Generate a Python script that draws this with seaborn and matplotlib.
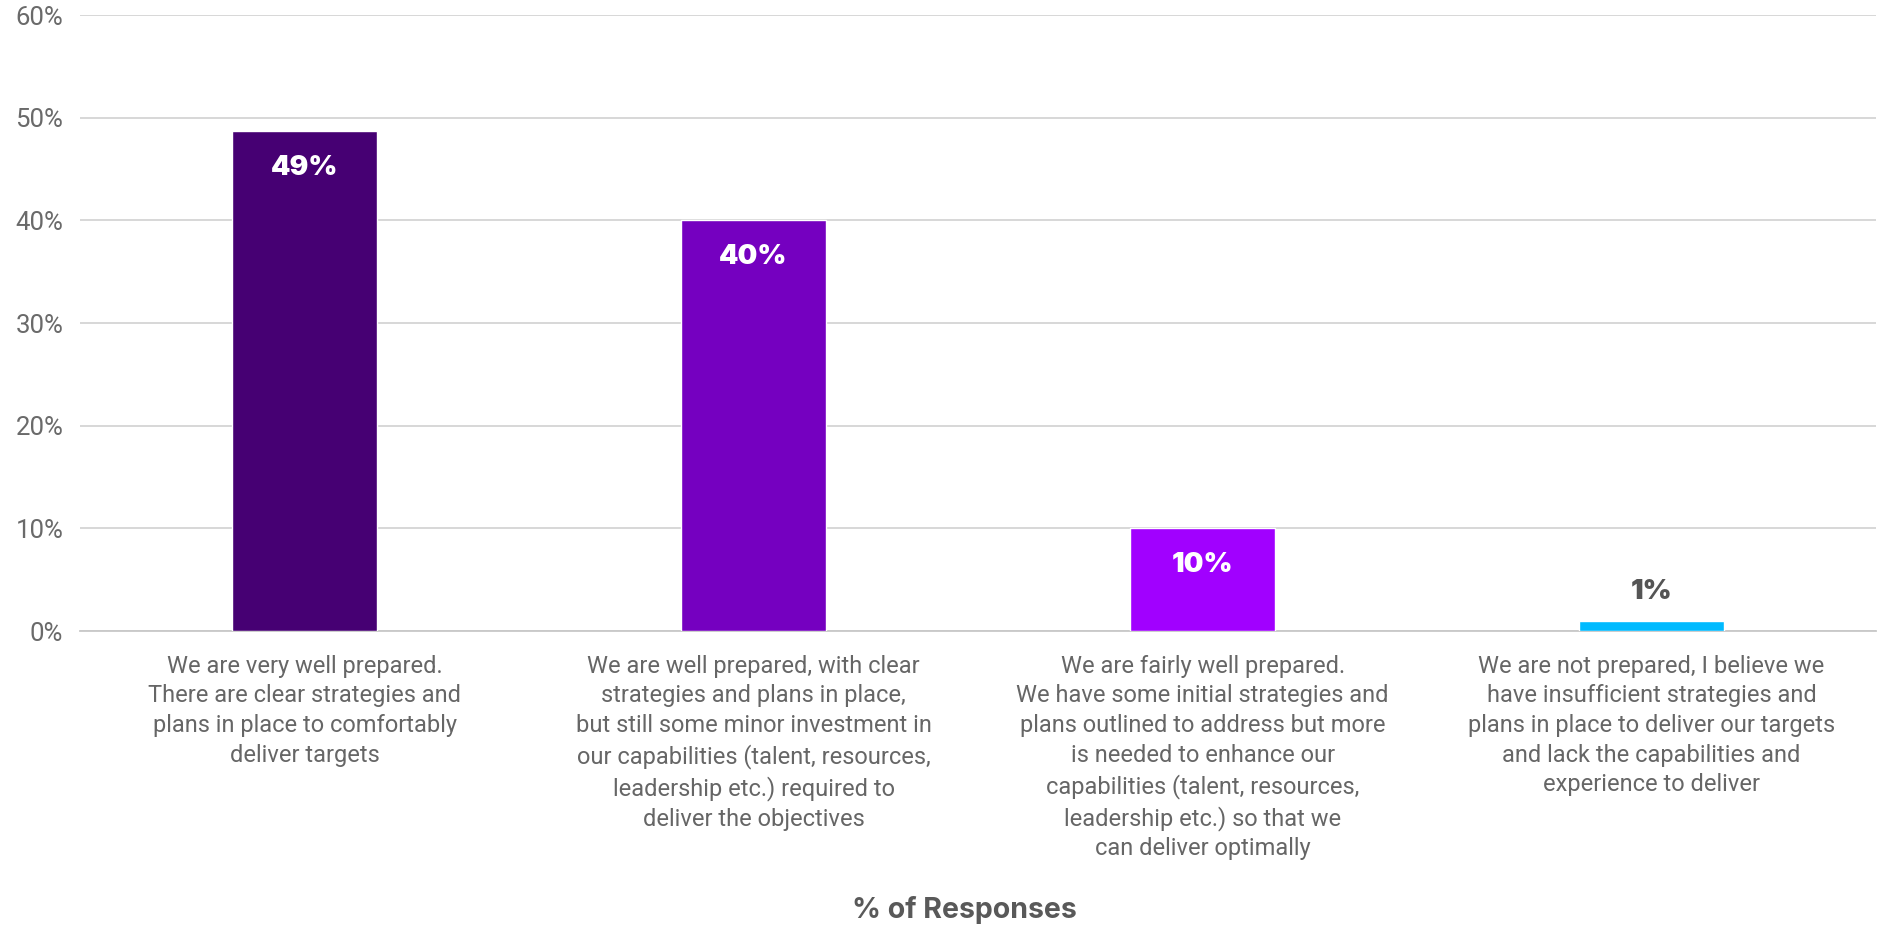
import matplotlib
matplotlib.use("Agg")
import matplotlib.pyplot as plt
import seaborn as sns
import pandas as pd

categories = [
    "We are very well prepared.\nThere are clear strategies and\nplans in place to comfortably\ndeliver targets",
    "We are well prepared, with clear\nstrategies and plans in place,\nbut still some minor investment in\nour capabilities (talent, resources,\nleadership etc.) required to\ndeliver the objectives",
    "We are fairly well prepared.\nWe have some initial strategies and\nplans outlined to address but more\nis needed to enhance our\ncapabilities (talent, resources,\nleadership etc.) so that we\ncan deliver optimally",
    "We are not prepared, I believe we\nhave insufficient strategies and\nplans in place to deliver our targets\nand lack the capabilities and\nexperience to deliver",
]
values = [48.7, 40.0, 10.0, 1.0]
value_labels = ["49%", "40%", "10%", "1%"]
colors = ["#460073", "#7500C0", "#A100FF", "#00BAFF"]
yticks = [0, 10, 20, 30, 40, 50, 60]
ytick_labels = ["0%", "10%", "20%", "30%", "40%", "50%", "60%"]
x_title = "% of Responses"

sns.set_theme(style="white")
plt.rcParams["font.family"] = ["Roboto", "DejaVu Sans"]

df = pd.DataFrame({"cat": categories, "val": values})

fig = plt.figure(figsize=(18.78, 9.27), dpi=100)
ax = fig.add_axes([0.0426, 0.3193, 0.9564, 0.6645])

sns.barplot(data=df, x="cat", y="val", hue="cat", palette=colors, legend=False,
            width=0.323, saturation=1, ax=ax, zorder=3)

ax.set_ylim(0, 60)
ax.set_xlim(-0.5, 3.5)
ax.set_yticks(yticks)
ax.set_yticklabels(ytick_labels, fontsize=18.5, color="#6a6a6a")
ax.tick_params(axis="y", length=0, pad=12)
ax.tick_params(axis="x", length=0, pad=17)
ax.set_xticks(range(len(categories)))
ax.set_xticklabels(categories, fontsize=17, color="#666666", linespacing=1.37)
for t in ax.get_xticklabels():
    t.set_ha("center")
    t.set_va("top")
ax.yaxis.grid(True, color="#d4d4d4", linewidth=1.3, zorder=0)
ax.xaxis.grid(False)
for s in ["top", "right", "left"]:
    ax.spines[s].set_visible(False)
ax.spines["bottom"].set_color("#c8c8c8")
ax.spines["bottom"].set_linewidth(1.3)
ax.set_xlabel("")
ax.set_ylabel("")

for i, (v, lab) in enumerate(zip(values, value_labels)):
    if v > 5:
        ax.annotate(lab, (i, v), xytext=(0, -37 * 0.72), textcoords="offset points",
                    ha="center", va="center", fontsize=20, fontweight="black",
                    color="white", family=["Inter", "DejaVu Sans"])
    else:
        ax.annotate(lab, (i, v), xytext=(0, 29 * 0.72), textcoords="offset points",
                    ha="center", va="center", fontsize=20, fontweight="black",
                    color="#555555", family=["Inter", "DejaVu Sans"])

fig.text(964 / 1878, 1 - 910 / 927, x_title, ha="center", va="center",
         fontsize=20.5, fontweight="bold", color="#595959", family=["Inter", "DejaVu Sans"])

fig.savefig("out.png", dpi=100)
